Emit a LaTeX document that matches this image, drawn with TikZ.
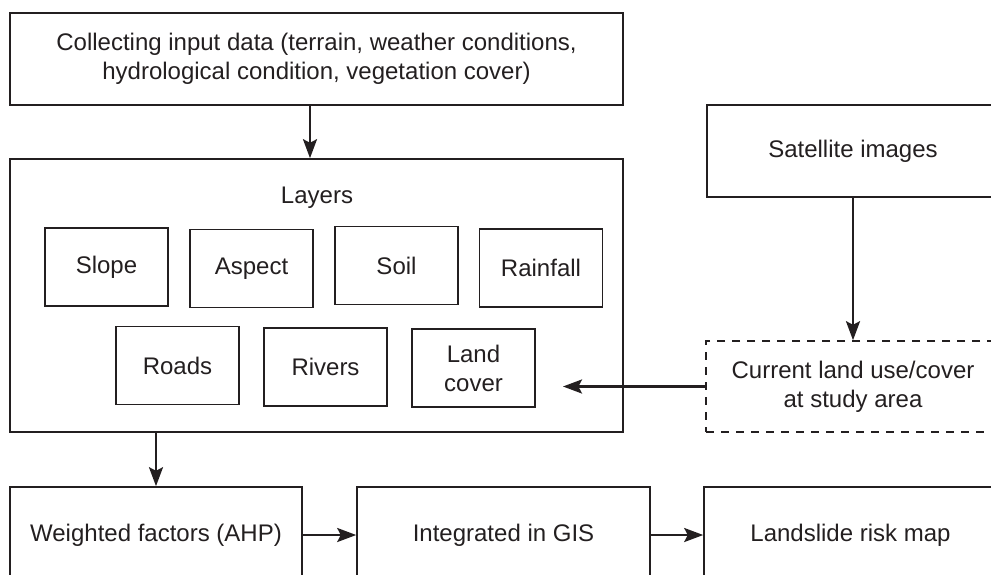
\documentclass[tikz,border=0pt]{standalone}
\usepackage{fontspec}
\setmainfont{Liberation Sans}
\usetikzlibrary{arrows.meta}
\definecolor{ink}{HTML}{231F20}
\begin{document}
\begin{tikzpicture}[x=0.5pt,y=-0.5pt,
  every node/.style={text=ink},
  box/.style={draw=ink, line width=0.8pt, minimum width=#1, minimum height=46pt, inner sep=0pt, align=center, font=\fontsize{12}{14.5}\selectfont},
  layerbox/.style={draw=ink, line width=0.8pt, minimum width=61.5pt, minimum height=39pt, inner sep=0pt, align=center, font=\fontsize{12}{14.5}\selectfont},
  arr/.style={draw=ink, line width=1.2pt, -{Stealth[length=9.5pt,width=7pt,inset=1.8pt]}}]
\useasboundingbox (0,0) rectangle (991,574);
\clip (0,0) rectangle (991,574);
\node[box=306.5pt] (top) at (316.5,59) {Collecting input data (terrain, weather conditions,\\hydrological condition, vegetation cover)};
\node[draw=ink, line width=0.8pt, minimum width=306.5pt, minimum height=136.5pt, inner sep=0pt] (layers) at (316.5,295.5) {};
\node[font=\fontsize{12}{14.5}\selectfont] (layerslabel) at (317,198) {Layers};
\node[layerbox] (slope) at (106.5,267) {\raisebox{-1.5pt}{Slope}};
\node[layerbox] (aspect) at (251.5,268.5) {\raisebox{-1.5pt}{Aspect}};
\node[layerbox] (soil) at (396.5,265.5) {Soil};
\node[layerbox] (rain) at (541,268) {\raisebox{-1pt}{Rainfall}};
\node[layerbox] (roads) at (177.5,365.5) {\raisebox{-1pt}{Roads}};
\node[layerbox] (rivers) at (325.5,367) {\raisebox{-1pt}{Rivers}};
\node[layerbox] (land) at (473.5,368) {Land\\cover};
\node[box=146pt] (sat) at (853,151) {\raisebox{-1pt}{Satellite images}};
\node[box=147pt, dash pattern=on 4pt off 3.5pt, minimum height=45.5pt] (cur) at (853,386.5) {Current land use/cover\\at study area};
\node[box=146pt, minimum height=48pt] (weight) at (156,535) {Weighted factors (AHP)};
\node[box=146.5pt, minimum height=48pt] (gis) at (503.5,535) {Integrated in GIS};
\node[box=146.5pt, minimum height=48pt] (risk) at (850.5,535) {Landslide risk map};
\coordinate (downx) at (310,0);
\coordinate (lctip) at (563,386.5);
\draw[arr] (top.south -| downx) -- (layers.north -| downx);
\draw[arr] (layers.south -| weight.north) -- (weight.north);
\draw[arr] (sat.south) -- (cur.north);
\draw[arr] (cur.west) -- (lctip);
\draw[arr] (weight.east) -- (gis.west);
\draw[arr] (gis.east) -- (risk.west);
\end{tikzpicture}
\end{document}
